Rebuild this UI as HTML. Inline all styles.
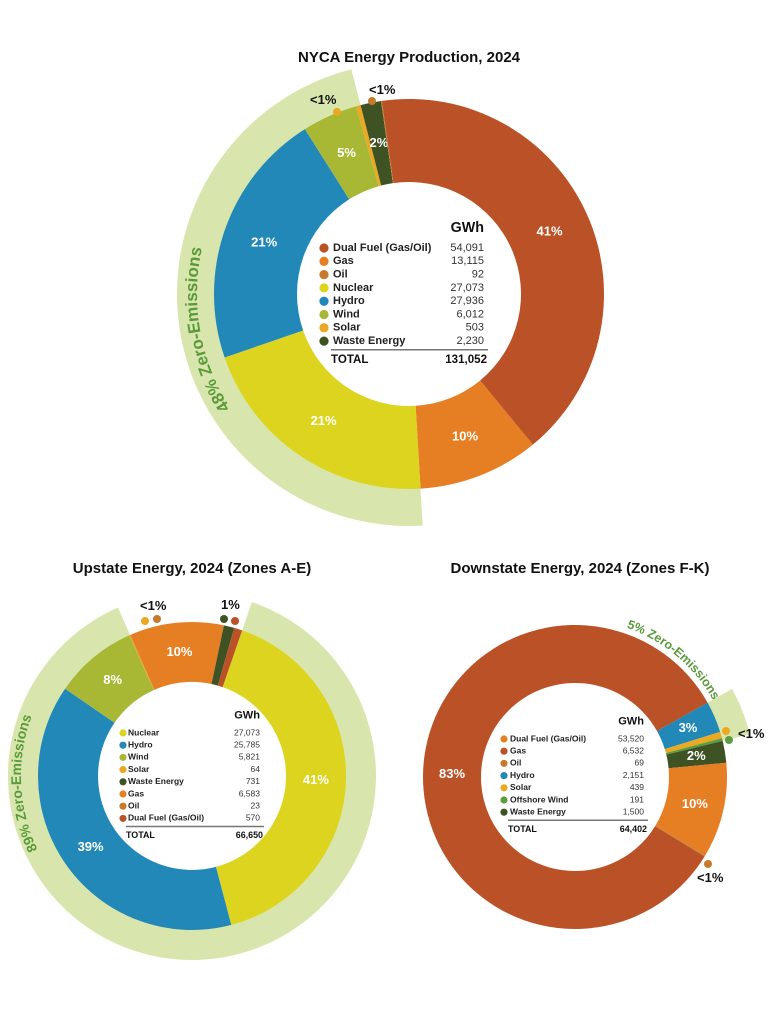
<!DOCTYPE html>
<html><head><meta charset="utf-8">
<style>
body{margin:0;background:#fff;}
svg{display:block;font-family:"Liberation Sans Narrow","Liberation Sans",sans-serif;}
.t{font-weight:bold;font-size:15px;fill:#111;text-anchor:middle}
.pl{font-weight:bold;fill:#fff;text-anchor:middle;dominant-baseline:middle}
.co{font-weight:bold;fill:#111;font-size:13px}
.ze{font-weight:bold;fill:#5a9a3a}
</style></head>
<body>
<svg id="s" width="771" height="1014" viewBox="0 0 771 1014">
<text class="t" x="409" y="62">NYCA Energy Production, 2024</text>
<text class="t" x="192" y="573">Upstate Energy, 2024 (Zones A-E)</text>
<text class="t" x="580" y="573">Downstate Energy, 2024 (Zones F-K)</text>
</svg>
<script>
// ---- NYCA data (pie order) ----
const nycaCats=["Dual Fuel (Gas/Oil)","Gas","Nuclear","Hydro","Wind","Solar","Waste Energy","Oil"];
const nycaVals=[54091,13115,27073,27936,6012,503,2230,92];
const nycaLabels=["41%","10%","21%","21%","5%","","2%",""];
const nycaLegendCats=["Dual Fuel (Gas/Oil)","Gas","Oil","Nuclear","Hydro","Wind","Solar","Waste Energy"];
const nycaLegendVals=["54,091","13,115","92","27,073","27,936","6,012","503","2,230"];
const nycaTotal="131,052";
// ---- Upstate ----
const upCats=["Nuclear","Hydro","Wind","Solar","Oil","Gas","Waste Energy","Dual Fuel (Gas/Oil)"];
const upVals=[27073,25785,5821,64,23,6583,731,570];
const upLabels=["41%","39%","8%","","","10%","",""];
const upLegendCats=["Nuclear","Hydro","Wind","Solar","Waste Energy","Gas","Oil","Dual Fuel (Gas/Oil)"];
const upLegendVals=["27,073","25,785","5,821","64","731","6,583","23","570"];
const upTotal="66,650";
// ---- Downstate ----
const dnCats=["Hydro","Solar","Offshore Wind","Waste Energy","Gas","Oil","Dual Fuel (Gas/Oil)"];
const dnVals=[2151,439,191,1500,6532,69,53520];
const dnLabels=["3%","","","2%","10%","","83%"];
const dnLegendCats=["Dual Fuel (Gas/Oil)","Gas","Oil","Hydro","Solar","Offshore Wind","Waste Energy"];
const dnLegendColorKeys=["Gas","Dual Fuel (Gas/Oil)","Oil","Hydro","Solar","Offshore Wind","Waste Energy"];
const dnLegendVals=["53,520","6,532","69","2,151","439","191","1,500"];
const dnTotal="64,402";

const COL={"Dual Fuel (Gas/Oil)":"#bb5127","Gas":"#e67e24","Oil":"#c57a2c","Nuclear":"#ddd41f","Hydro":"#2188b8","Wind":"#a8b835","Solar":"#eaa823","Waste Energy":"#3f5224","Offshore Wind":"#5a9e3e"};
const svg=document.getElementById('s');
const NS="http://www.w3.org/2000/svg";
function mk(tag,attrs,parent){const e=document.createElementNS(NS,tag);for(const k in attrs)e.setAttribute(k,attrs[k]);(parent||svg).appendChild(e);return e;}
function pt(cx,cy,r,a){const t=a*Math.PI/180;return [cx+r*Math.sin(t),cy-r*Math.cos(t)];}
function arcPath(cx,cy,r0,r1,a0,a1){
  const L=(a1-a0)>180?1:0;const p1=pt(cx,cy,r1,a0),p2=pt(cx,cy,r1,a1),p3=pt(cx,cy,r0,a1),p4=pt(cx,cy,r0,a0);
  return `M${p1[0]},${p1[1]}A${r1},${r1} 0 ${L} 1 ${p2[0]},${p2[1]}L${p3[0]},${p3[1]}A${r0},${r0} 0 ${L} 0 ${p4[0]},${p4[1]}Z`;
}
function angles(vals,start){const tot=vals.reduce((a,b)=>a+b,0);let a=start;return vals.map(v=>{const s=a;a+=v/tot*360;return [s,a];});}

function donut(cfg){
  const ang=angles(cfg.vals,cfg.start);
  // zero-emission band
  const bs=ang[cfg.band[0]][0], be=ang[cfg.band[1]][1];
  const band=mk('path',{d:arcPath(cfg.cx,cfg.cy,cfg.r1-1,cfg.rb,bs,be),fill:'#d8e6ad'});
  
  
  cfg.vals.forEach((v,i)=>{
    const p=mk('path',{d:arcPath(cfg.cx,cfg.cy,cfg.r0,cfg.r1,ang[i][0],ang[i][1]),fill:COL[cfg.cats[i]]});
    
    
    if(cfg.labels[i]){
      const m=pt(cfg.cx,cfg.cy,(cfg.r0+cfg.r1)/2,(ang[i][0]+ang[i][1])/2);
      const t=mk('text',{x:m[0],y:m[1],class:'pl','font-size':cfg.fs});t.textContent=cfg.labels[i];
      
      
    }
  });
  // zero-emissions curved text
  const pid=cfg.id+'-zpath';
  const [za0,za1]=cfg.zarc;const q1=pt(cfg.cx,cfg.cy,cfg.zr,za0),q2=pt(cfg.cx,cfg.cy,cfg.zr,za1);
  mk('path',{id:pid,d:`M${q1[0]},${q1[1]}A${cfg.zr},${cfg.zr} 0 0 1 ${q2[0]},${q2[1]}`,fill:'none'});
  const zt=mk('text',{class:'ze','font-size':cfg.zfs,'text-anchor':'middle'});
  
  
  const tp=mk('textPath',{href:'#'+pid,startOffset:'50%'},zt);tp.textContent=cfg.ztext;
  // legend
  const L=cfg.leg;
  const gh=mk('text',{x:L.vx,y:L.y0-L.dy*1.2,'text-anchor':'end','font-weight':'bold','font-size':L.fs*1.3,fill:'#111'});gh.textContent='GWh';
  
  
  cfg.legCats.forEach((c,i)=>{
    const y=L.y0+i*L.dy;
    const d=mk('circle',{cx:L.dx,cy:y,r:L.fs*0.42,fill:COL[cfg.legColors[i]]});
    
    
    const t=mk('text',{x:L.tx,y:y,'dominant-baseline':'middle','font-size':L.fs,'font-weight':'bold',fill:'#222'});t.textContent=c;
    
    
    const v=mk('text',{x:L.vx,y:y,'dominant-baseline':'middle','text-anchor':'end','font-size':L.fs,fill:'#333'});v.textContent=cfg.legVals[i];
    
    
  });
  const ly=L.y0+(cfg.legCats.length-0.5)*L.dy+2;
  const ln=mk('line',{x1:L.tx-2,x2:L.vx+4,y1:ly,y2:ly,stroke:'#777','stroke-width':1.5});
  
  
  const tt=mk('text',{x:L.tx-2,y:ly+L.dy*0.75,'dominant-baseline':'middle','font-size':L.fs*1.05,'font-weight':'bold',fill:'#111'});tt.textContent='TOTAL';
  
  
  const tv=mk('text',{x:L.vx+3,y:ly+L.dy*0.75,'dominant-baseline':'middle','text-anchor':'end','font-size':L.fs*1.05,'font-weight':'bold',fill:'#111'});tv.textContent=cfg.total;
  
  
}

donut({id:'nyca',cx:409,cy:294,r0:112,r1:195,rb:232,start:-8,cats:nycaCats,vals:nycaVals,labels:nycaLabels,band:[2,5],fs:13,
  zr:212,zarc:[200,320],zfs:17,ztext:'48% Zero-Emissions',
  legCats:nycaLegendCats,legColors:nycaLegendCats,legVals:nycaLegendVals,total:nycaTotal,
  leg:{dx:324,tx:333,vx:484,y0:248,dy:13.3,fs:11}});
donut({id:'upstate',cx:192,cy:776,r0:94,r1:154,rb:184,start:19,cats:upCats,vals:upVals,labels:upLabels,band:[0,3],fs:13,
  zr:171,zarc:[215,320],zfs:14,ztext:'89% Zero-Emissions',
  legCats:upLegendCats,legColors:upLegendCats,legVals:upLegendVals,total:upTotal,
  leg:{dx:123,tx:128,vx:260,y0:733,dy:12.2,fs:8.5}});
donut({id:'downstate',cx:575,cy:777,r0:94,r1:152,rb:180,start:60.7,cats:dnCats,vals:dnVals,labels:dnLabels,band:[0,2],fs:13,
  zr:158,zarc:[10,70],zfs:12.5,ztext:'5% Zero-Emissions',
  legCats:dnLegendCats,legColors:dnLegendColorKeys,legVals:dnLegendVals,total:dnTotal,
  leg:{dx:504,tx:510,vx:644,y0:739,dy:12.2,fs:8.5}});
</script>
<svg width="771" height="1014" style="position:absolute;left:0;top:0">
  <circle cx="337" cy="112" r="4" fill="#eaa823"/>
  <text class="co" x="310" y="104" font-family="Liberation Sans">&lt;1%</text>
  <circle cx="372" cy="101" r="4" fill="#c57a2c"/>
  <text class="co" x="369" y="94" font-family="Liberation Sans">&lt;1%</text>
  <circle cx="145" cy="621" r="4" fill="#eaa823"/>
  <circle cx="157" cy="619" r="4" fill="#c57a2c"/>
  <text class="co" x="140" y="610" font-family="Liberation Sans">&lt;1%</text>
  <circle cx="224" cy="619" r="4" fill="#3f5224"/>
  <circle cx="235" cy="621" r="4" fill="#bb5127"/>
  <text class="co" x="221" y="609" font-family="Liberation Sans">1%</text>
  <circle cx="726" cy="731" r="4" fill="#eaa823"/>
  <circle cx="729" cy="740" r="4" fill="#5a9e3e"/>
  <text class="co" x="738" y="738" font-family="Liberation Sans">&lt;1%</text>
  <circle cx="708" cy="864" r="4" fill="#c57a2c"/>
  <text class="co" x="697" y="882" font-family="Liberation Sans">&lt;1%</text>
</svg>
</body></html>
